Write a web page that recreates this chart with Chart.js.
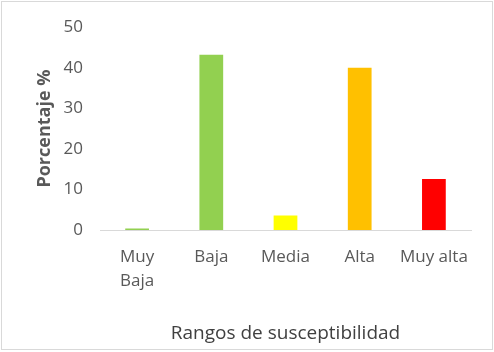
<!DOCTYPE html>
<html>
<head>
<meta charset="utf-8">
<script src="https://cdn.jsdelivr.net/npm/chart.js@4/dist/chart.umd.min.js"></script>
<style>
  html, body { margin: 0; padding: 0; background: #fff; }
  #wrap { width: 494px; height: 352px; position: relative; }
</style>
</head>
<body>
<div id="wrap"><canvas id="chart"></canvas></div>
<script>
// data
const categories = [["Muy", "Baja"], "Baja", "Media", "Alta", "Muy alta"];
const porcentajes = [0.4, 43.2, 3.6, 40.0, 12.6];
const barColors = ["#92D050", "#92D050", "#FFFF00", "#FFC000", "#FF0000"];
const yTicks = [0, 10, 20, 30, 40, 50];

const frame = {
  id: "frame",
  beforeDraw(chart) {
    const ctx = chart.ctx;
    ctx.save();
    ctx.fillStyle = "#fff";
    ctx.fillRect(0, 0, chart.width, chart.height);
    ctx.strokeStyle = "#d9d9d9";
    ctx.lineWidth = 1;
    ctx.strokeRect(1.5, 1.5, chart.width - 3, chart.height - 4);
    ctx.restore();
  }
};

new Chart(document.getElementById("chart"), {
  type: "bar",
  data: {
    labels: categories,
    datasets: [{
      data: porcentajes,
      backgroundColor: barColors,
      categoryPercentage: 1,
      barPercentage: 0.32
    }]
  },
  options: {
    responsive: true,
    maintainAspectRatio: false,
    animation: false,
    layout: { padding: { left: 30, right: 23, top: 24, bottom: 7 } },
    plugins: { legend: { display: false }, tooltip: { enabled: false } },
    scales: {
      x: {
        grid: { display: false, drawTicks: false },
        border: { display: true, color: "#d9d9d9", width: 1 },
        ticks: {
          color: "#595959",
          font: { family: "Open Sans", size: 17, lineHeight: 1.4 },
          padding: 15,
          maxRotation: 0,
          autoSkip: false
        },
        title: {
          display: true,
          text: "Rangos de susceptibilidad",
          color: "#404040",
          font: { family: "Open Sans", size: 19 },
          padding: { top: 0, bottom: 0 }
        },
        afterFit(scale) { scale.height = 115; }
      },
      y: {
        min: 0,
        max: 50,
        afterBuildTicks(scale) { scale.ticks = yTicks.map(v => ({ value: v })); },
        grid: { display: false, drawTicks: false },
        border: { display: false },
        ticks: {
          color: "#595959",
          font: { family: "Open Sans", size: 17 },
          padding: 17
        },
        title: {
          display: true,
          text: "Porcentaje %",
          color: "#595959",
          font: { family: "Open Sans", size: 18, weight: "bold" },
          padding: { top: 4, bottom: 0 }
        },
        afterFit(scale) { scale.width = 70; }
      }
    }
  },
  plugins: [frame]
});
</script>
</body>
</html>
